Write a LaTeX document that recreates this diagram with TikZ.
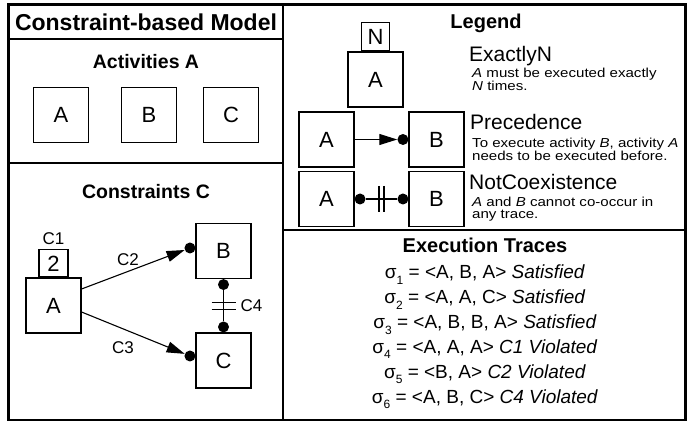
\documentclass[tikz,border=0pt]{standalone}
\usepackage{fontspec}
\setmainfont{Liberation Sans}
\newfontfamily\smallfont[FakeStretch=1.16]{Liberation Sans}
\usetikzlibrary{arrows.meta,calc}
\newcommand\tsub[1]{\raisebox{-5.5pt}{\fontsize{12}{12}\selectfont #1}}
\begin{document}
\begin{tikzpicture}[x=1pt,y=-1pt,
  frame/.style={line width=2.2pt},
  box/.style={draw,line width=1.1pt,minimum width=55pt,minimum height=55pt,inner sep=0pt,font=\fontsize{22}{24}\selectfont},
  nbox/.style={draw,line width=1.1pt,minimum width=28pt,minimum height=28pt,inner sep=0pt,font=\fontsize{22}{24}\selectfont},
  dot/.style={circle,fill,inner sep=0pt,minimum size=11pt},
  conn/.style={line width=1.1pt},
  arr/.style={line width=1.1pt,-{Triangle[length=18pt,width=11pt]}},
  head/.style={font=\bfseries\fontsize{20}{24}\selectfont,inner sep=0pt},
  lbl/.style={font=\fontsize{17}{20}\selectfont,inner sep=0pt},
  big/.style={font=\fontsize{21}{24}\selectfont,anchor=base west,inner sep=0pt},
  small/.style={font=\smallfont\fontsize{13}{12}\selectfont,anchor=base west,inner sep=0pt,text height=9.4pt,text depth=2.4pt},
  trace/.style={font=\fontsize{19}{22}\selectfont,anchor=base,inner sep=0pt},
]
\useasboundingbox (0,0) rectangle (689,422);
% frame
\draw[frame] (8.5,4.5) rectangle (685.5,420);
\draw[frame] (283,4.5) -- (283,420);
\draw[frame] (8.5,39) -- (283,39);
\draw[frame] (8.5,163) -- (283,163);
\draw[frame] (283,230) -- (685.5,230);

% left column
\node[head,font=\bfseries\fontsize{23}{26}\selectfont] (title) at (146,22) {Constraint-based Model};
\node[head,font=\bfseries\fontsize{19.5}{24}\selectfont] (acts) at (146,62) {Activities A};
\node[box] (a1) at (61,115) {A};
\node[box] (b1) at (149,115) {B};
\node[box] (c1) at (231,115) {C};

\node[head,font=\bfseries\fontsize{19.5}{24}\selectfont] (cons) at (146,192) {Constraints C};
\node[box] (ca) at (53.5,305.5) {A};
\node[nbox,minimum width=29pt,minimum height=27pt,anchor=south] (c2box) at (ca.north) {2};
\node[lbl] (c1l) at (53.5,239) {C1};
\node[box] (cb) at (223.5,251) {B};
\node[box] (cc) at (223.5,360.5) {C};
\node[dot] (db) at ($(cb.west)+(-5.5,-3)$) {};
\node[dot] (dc) at ($(cc.west)+(-5.5,-4.5)$) {};
\draw[arr] ($(ca.east)+(0,-16.5)$) -- (db);
\draw[arr] ($(ca.east)+(0,6.5)$) -- (dc);
\node[lbl] (l2) at (128,260) {C2};
\node[lbl] (l3) at (123,348) {C3};
\node[dot] (d4a) at ($(cb.south)+(0,5.5)$) {};
\node[dot] (d4b) at ($(cc.north)+(0,-5.5)$) {};
\draw[conn] (d4a) -- (d4b);
\coordinate (m4) at ($(d4a)!0.5!(d4b)$);
\draw[conn] ($(m4)+(-12,-3.5)$) -- ++(24,0);
\draw[conn] ($(m4)+(-12,3.5)$) -- ++(24,0);
\node[lbl] (l4) at (251.5,306) {C4};

% legend
\node[head] (leg) at (486,23) {Legend};
\node[box] (la) at (375.5,79.5) {A};
\node[nbox,anchor=south] (ln) at (la.north) {N};
\node[big] (t1) at (469,62) {ExactlyN};
\node[small] (t1a) at (472,78) {\textit{A} must be executed exactly};
\node[small] (t1b) at (472,91) {\textit{N} times.};

\node[box] (pa) at (326.5,139.5) {A};
\node[box] (pb) at (436.5,139.5) {B};
\node[dot] (pd) at ($(pb.west)+(-5.5,0)$) {};
\draw[arr] (pa) -- (pd);
\node[big] (t2) at (470,130) {Precedence};
\node[small] (t2a) at (472,148) {To execute activity \textit{B}, activity \textit{A}};
\node[small] (t2b) at (472,160.5) {needs to be executed before.};

\node[box] (na) at (326.5,199) {A};
\node[box] (nb) at (436.5,199) {B};
\node[dot] (nd1) at ($(na.east)+(5.5,0)$) {};
\node[dot] (nd2) at ($(nb.west)+(-5.5,0)$) {};
\draw[conn] (nd1) -- (nd2);
\coordinate (mn) at ($(nd1)!0.5!(nd2)$);
\draw[conn] ($(mn)+(-2.5,-13)$) -- ++(0,26);
\draw[conn] ($(mn)+(2.5,-13)$) -- ++(0,26);
\node[big] (t3) at (469,190) {NotCoexistence};
\node[small] (t3a) at (472,206.5) {\textit{A} and \textit{B} cannot co-occur in};
\node[small] (t3b) at (472,218.5) {any trace.};

% traces
\node[head] (tr) at (485,245) {Execution Traces};
\node[trace] (s1) at (485,279) {σ\tsub{1} = <A, B, A> \textit{Satisfied}};
\node[trace] (s2) at (485,303.8) {σ\tsub{2} = <A, A, C> \textit{Satisfied}};
\node[trace] (s3) at (485,328.6) {σ\tsub{3} = <A, B, B, A> \textit{Satisfied}};
\node[trace] (s4) at (485,353.4) {σ\tsub{4} = <A, A, A> \textit{C1 Violated}};
\node[trace] (s5) at (485,378.2) {σ\tsub{5} = <B, A> \textit{C2 Violated}};
\node[trace] (s6) at (485,403) {σ\tsub{6} = <A, B, C> \textit{C4 Violated}};
\end{tikzpicture}
\end{document}
